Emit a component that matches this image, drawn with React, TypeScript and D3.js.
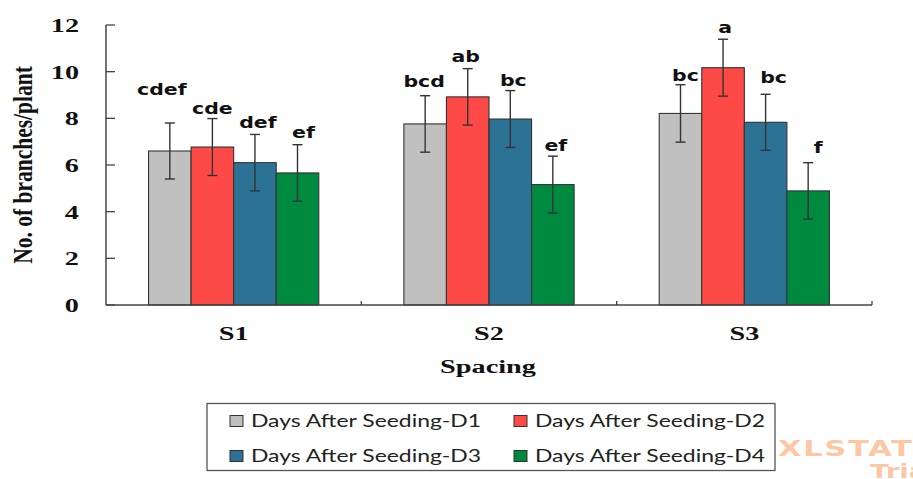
import React from 'react';
import * as d3 from 'd3';

const categories = ['S1', 'S2', 'S3'];
const seriesNames = [
  'Days After Seeding-D1',
  'Days After Seeding-D2',
  'Days After Seeding-D3',
  'Days After Seeding-D4',
];
const d1 = [6.6, 7.76, 8.21];
const d2 = [6.77, 8.92, 10.17];
const d3v = [6.1, 7.97, 7.83];
const d4 = [5.66, 5.16, 4.89];
const err1 = [1.2, 1.21, 1.23];
const err2 = [1.22, 1.21, 1.22];
const err3 = [1.21, 1.22, 1.2];
const err4 = [1.21, 1.22, 1.21];
const letters1 = ['cdef', 'bcd', 'bc'];
const letters2 = ['cde', 'ab', 'a'];
const letters3 = ['def', 'bc', 'bc'];
const letters4 = ['ef', 'ef', 'f'];
const yTicks = [0, 2, 4, 6, 8, 10, 12];
const yTitle = 'No. of branches/plant';
const xTitle = 'Spacing';

// layout / style (not data)
const colors = ['#c0c0c0', '#fe4a46', '#2c7295', '#008a40'];
const labelLift = [
  [28, 9, 4],
  [5, 7, 6],
  [6, 5, 11],
  [7, 5, 10],
];
const labelDx = [
  [-8, -1, 5],
  [0, -2, 2],
  [3, 3, 8],
  [6, 3, 10],
];
const SX = 1.45;

const values = [d1, d2, d3v, d4];
const errs = [err1, err2, err3, err4];
const letters = [letters1, letters2, letters3, letters4];

export default function App() {
  const W = 913, H = 479;
  const x = d3.scaleBand<string>().domain(categories).range([106, 872]).paddingInner(0).paddingOuter(0);
  const xi = d3.scaleBand<number>().domain(d3.range(seriesNames.length)).range([0, x.bandwidth()]).paddingInner(0).paddingOuter(1);
  const y = d3.scaleLinear().domain([0, 12]).range([305, 25]);
  const serif = '"Liberation Serif", "Times New Roman", serif';
  const axisColor = '#444';

  const boundaries = [...categories.map((c) => (x(c) as number) + x.bandwidth())];

  return (
    <svg width={W} height={H} style={{ position: 'absolute', left: 0, top: 0, background: '#fff' }}>
      <rect x={0} y={0} width={W} height={H} fill="#fff" />
      {/* bars */}
      {categories.map((c, ci) =>
        seriesNames.map((s, si) => {
          const bx = (x(c) as number) + (xi(si) as number);
          const v = values[si][ci];
          return (
            <rect key={c + si} x={bx} y={y(v)} width={xi.bandwidth()} height={y(0) - y(v)}
              fill={colors[si]} stroke="#333" strokeWidth={1.1} />
          );
        })
      )}
      {/* error bars */}
      {categories.map((c, ci) =>
        seriesNames.map((s, si) => {
          const cx = (x(c) as number) + (xi(si) as number) + xi.bandwidth() / 2;
          const v = values[si][ci];
          const e = errs[si][ci];
          const hw = 5;
          return (
            <g key={'e' + c + si} stroke="#333" strokeWidth={1.4}>
              <line x1={cx} x2={cx} y1={y(v + e)} y2={y(v - e)} />
              <line x1={cx - hw} x2={cx + hw} y1={y(v + e)} y2={y(v + e)} />
              <line x1={cx - hw} x2={cx + hw} y1={y(v - e)} y2={y(v - e)} />
            </g>
          );
        })
      )}
      {/* letters */}
      {categories.map((c, ci) =>
        seriesNames.map((s, si) => {
          const cx = (x(c) as number) + (xi(si) as number) + xi.bandwidth() / 2 + labelDx[si][ci];
          const v = values[si][ci];
          const e = errs[si][ci];
          const ty = y(v + e) - labelLift[si][ci];
          return (
            <text key={'l' + c + si} transform={`translate(${cx},${ty}) scale(1.28,1)`}
              textAnchor="middle" fontFamily='"DejaVu Sans", sans-serif' fontWeight="bold"
              fontSize={16} fill="#111">
              {letters[si][ci]}
            </text>
          );
        })
      )}
      {/* y axis */}
      <line x1={106} x2={106} y1={y(12)} y2={y(0)} stroke={axisColor} strokeWidth={1.5} />
      {yTicks.map((t) => (
        <g key={'yt' + t}>
          <line x1={106} x2={115} y1={y(t)} y2={y(t)} stroke={axisColor} strokeWidth={1.3} />
          <text transform={`translate(79,${y(t) + 7}) scale(${SX},1)`} textAnchor="end"
            fontFamily={serif} fontWeight="bold" fontSize={19.5} fill="#111">
            {t}
          </text>
        </g>
      ))}
      {/* x axis */}
      <line x1={106} x2={872} y1={y(0)} y2={y(0)} stroke={axisColor} strokeWidth={1.5} />
      {boundaries.map((b, i) => (
        <line key={'xt' + i} x1={b} x2={b} y1={y(0)} y2={y(0) - 4} stroke={axisColor} strokeWidth={1.3} />
      ))}
      {categories.map((c) => (
        <text key={'xl' + c} transform={`translate(${(x(c) as number) + x.bandwidth() / 2},340) scale(${SX},1)`}
          textAnchor="middle" fontFamily={serif} fontWeight="bold" fontSize={19.5} fill="#111">
          {c}
        </text>
      ))}
      <text transform={`translate(488,373) scale(${SX},1)`} textAnchor="middle" fontFamily={serif}
        fontWeight="bold" fontSize={19.5} fill="#111">
        {xTitle}
      </text>
      <text transform={`translate(32,165) scale(1.25,1) rotate(-90)`} textAnchor="middle" fontFamily={serif}
        fontWeight="bold" fontSize={21.5} fill="#111">
        {yTitle}
      </text>
      {/* legend */}
      <rect x={207} y={403.5} width={568} height={67} fill="#fff" stroke="#555" strokeWidth={1.3} />
      {seriesNames.map((s, i) => {
        const col = i % 2;
        const row = Math.floor(i / 2);
        const lx = col === 0 ? 230 : 514;
        const ly = row === 0 ? 421 : 456;
        return (
          <g key={'lg' + i}>
            <rect x={lx} y={ly - 5.5} width={13} height={11} fill={colors[i]} stroke="#333" strokeWidth={1} />
            <text transform={`translate(${lx + 21},${ly + 6}) scale(1.31,1)`} fontFamily='Lato, "Noto Sans", sans-serif'
              fontSize={17.5} fill="#222">
              {s}
            </text>
          </g>
        );
      })}
      {/* watermark */}
      <text transform={`translate(778,456) scale(${SX},1)`} fontFamily='"DejaVu Sans", sans-serif' fontWeight="bold"
        fontSize={21} fill="#fcc8a4" letterSpacing={1.2}>
        XLSTAT
      </text>
      <text transform={`translate(870,478) scale(${SX},1)`} fontFamily='"DejaVu Sans", sans-serif' fontWeight="bold"
        fontSize={19} fill="#fcc8a4">
        Trial
      </text>
    </svg>
  );
}
